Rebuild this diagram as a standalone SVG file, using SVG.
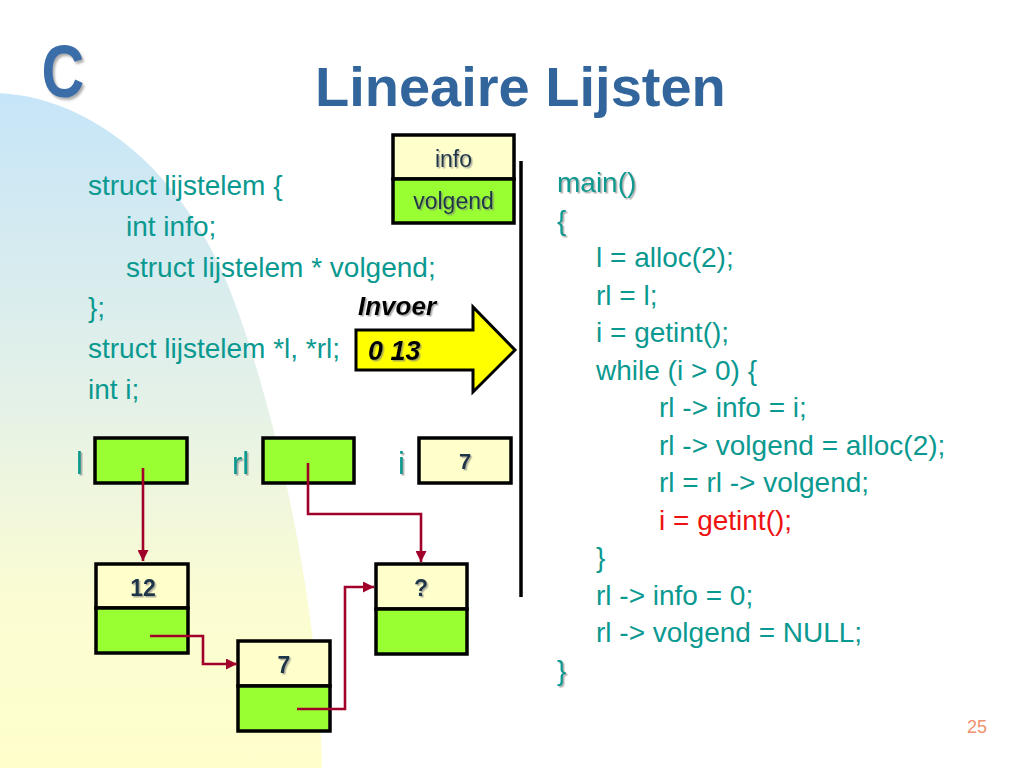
<svg xmlns="http://www.w3.org/2000/svg" width="1024" height="768" viewBox="0 0 1024 768">
<defs>
  <linearGradient id="bgGrad" x1="0" y1="93" x2="0" y2="768" gradientUnits="userSpaceOnUse">
    <stop offset="0" stop-color="#c6e5f8"/>
    <stop offset="0.45" stop-color="#e4f1e8"/>
    <stop offset="0.75" stop-color="#fbfcd2"/>
    <stop offset="1" stop-color="#ffffcc"/>
  </linearGradient>
  <filter id="sh" x="-20%" y="-20%" width="150%" height="150%">
    <feDropShadow dx="1.5" dy="1.5" stdDeviation="0.7" flood-color="#7a7a7a" flood-opacity="0.6"/>
  </filter>
  <filter id="shBig" x="-20%" y="-20%" width="150%" height="150%">
    <feDropShadow dx="2.5" dy="2.5" stdDeviation="1.2" flood-color="#777" flood-opacity="0.6"/>
  </filter>
  <marker id="arr" viewBox="0 0 10 10" refX="10" refY="5" markerWidth="11" markerHeight="11" markerUnits="userSpaceOnUse" orient="auto">
    <path d="M0,0 L10,5 L0,10 Z" fill="#a0002a"/>
  </marker>
  <style>
    .code { font-family: "Liberation Sans", Arial, sans-serif; fill: #0a9990; }
    .lc { font-size: 28px; }
    .rc { font-size: 28px; }
    .red { fill: #ee1111; }
    .box { stroke: #000; stroke-width: 3.5; }
    .cream { fill: #ffffcc; }
    .green { fill: #99ff33; }
    .nt { font-family: "Liberation Sans", Arial, sans-serif; font-weight: bold; fill: #1d3448; text-anchor: middle; }
    .lt { font-family: "Liberation Sans", Arial, sans-serif; font-weight: normal; fill: #1d3448; text-anchor: middle; font-size: 23px; }
    .var { font-family: "Liberation Sans", Arial, sans-serif; font-size: 31px; fill: #0a9990; }
    .conn { fill: none; stroke: #a0002a; stroke-width: 2.6; }
  </style>
</defs>

<rect x="0" y="0" width="1024" height="768" fill="#ffffff"/>
<path d="M-10,93 C80,92 170,160 220,267 C255,342 318,560 322,768 L0,768 L-10,768 Z" fill="url(#bgGrad)"/>

<!-- Header -->
<g id="logo">
  <text x="63" y="97" transform="translate(63 0) scale(0.8 1) translate(-63 0)" text-anchor="middle" font-family="'Liberation Sans', Arial, sans-serif" font-weight="bold" font-size="74" fill="#3b6ea8" filter="url(#shBig)">C</text>
</g>
<g id="title">
  <text x="315" y="106" font-family="'Liberation Sans', Arial, sans-serif" font-weight="bold" font-size="56" fill="#31659c">Lineaire Lijsten</text>
</g>

<!-- Left code -->
<g id="struct-code" class="code lc">
  <text x="88" y="195">struct lijstelem {</text>
  <text x="126" y="236">int info;</text>
  <text x="126" y="276.5">struct lijstelem * volgend;</text>
  <text x="88" y="317">};</text>
  <text x="88" y="358">struct lijstelem *l, *rl;</text>
  <text x="88" y="398.5">int i;</text>
</g>

<!-- Legend box -->
<g id="legend">
  <rect class="box cream" x="393" y="135" width="121" height="44"/>
  <rect class="box green" x="393" y="179" width="121" height="44"/>
  <text class="lt" x="453.5" y="167" filter="url(#sh)">info</text>
  <text class="lt" x="453.5" y="208.5" filter="url(#sh)">volgend</text>
</g>

<!-- Divider line -->
<g id="divider">
  <line x1="521" y1="161" x2="521" y2="597" stroke="#000" stroke-width="3.5"/>
</g>

<!-- Input arrow -->
<g id="input-arrow">
  <path d="M356,330 L473,330 L473,307 L515,350 L473,392 L473,370 L356,370 Z" fill="#ffff00" stroke="#000" stroke-width="3" stroke-linejoin="miter"/>
  <text x="358" y="315" font-family="'Liberation Sans', Arial, sans-serif" font-weight="bold" font-style="italic" font-size="26" fill="#000" filter="url(#sh)">Invoer</text>
  <text x="368" y="360" font-family="'Liberation Sans', Arial, sans-serif" font-weight="bold" font-style="italic" font-size="27" fill="#000" filter="url(#sh)">0 13</text>
</g>

<!-- Right code -->
<g id="main-code" class="code rc">
  <text x="557" y="192" filter="url(#sh)">main()</text>
  <text x="557" y="229.5" filter="url(#sh)">{</text>
  <text x="596" y="267">l = alloc(2);</text>
  <text x="596" y="304.5">rl = l;</text>
  <text x="596" y="342">i = getint();</text>
  <text x="596" y="379.5">while (i &gt; 0) {</text>
  <text x="659" y="417">rl -&gt; info = i;</text>
  <text x="659" y="454.5">rl -&gt; volgend = alloc(2);</text>
  <text x="659" y="492">rl = rl -&gt; volgend;</text>
  <text class="red" x="659" y="529.5">i = getint();</text>
  <text x="596" y="567">}</text>
  <text x="596" y="604.5">rl -&gt; info = 0;</text>
  <text x="596" y="642">rl -&gt; volgend = NULL;</text>
  <text x="557" y="679.5" filter="url(#sh)">}</text>
</g>

<!-- Variables -->
<g id="var-l">
  <text class="var" x="76" y="474" filter="url(#sh)">l</text>
  <rect class="box green" x="95" y="438" width="92" height="45"/>
</g>
<g id="var-rl">
  <text class="var" x="232" y="474" filter="url(#sh)">rl</text>
  <rect class="box green" x="263" y="438" width="91" height="45"/>
</g>
<g id="var-i">
  <text class="var" x="398" y="474" filter="url(#sh)">i</text>
  <rect class="box cream" x="419" y="438" width="92" height="45"/>
  <text class="nt" x="465" y="469" font-size="22" filter="url(#sh)">7</text>
</g>

<!-- List nodes -->
<g id="node-12">
  <rect class="box cream" x="96" y="564" width="92" height="44"/>
  <rect class="box green" x="96" y="608" width="92" height="45"/>
  <text class="nt" x="143" y="596" font-size="23" filter="url(#sh)">12</text>
</g>
<g id="node-7">
  <rect class="box cream" x="238" y="641" width="92" height="45"/>
  <rect class="box green" x="238" y="686" width="92" height="45"/>
  <text class="nt" x="284" y="673" font-size="23" filter="url(#sh)">7</text>
</g>
<g id="node-q">
  <rect class="box cream" x="376" y="564" width="91" height="45"/>
  <rect class="box green" x="376" y="609" width="91" height="45"/>
  <text class="nt" x="421" y="596" font-size="23" filter="url(#sh)">?</text>
</g>

<!-- Connectors -->
<g id="connectors">
  <path class="conn" d="M143,468 L143,561" marker-end="url(#arr)"/>
  <path class="conn" d="M308,463 L308,514 L421,514 L421,562" marker-end="url(#arr)"/>
  <path class="conn" d="M150,636 L203,636 L203,664 L237,664" marker-end="url(#arr)"/>
  <path class="conn" d="M297,709 L345,709 L345,587 L374,587" marker-end="url(#arr)"/>
</g>

<!-- Page number -->
<g id="page-number">
  <text x="987" y="733" text-anchor="end" font-family="'Liberation Sans', Arial, sans-serif" font-size="18" fill="#f0906e">25</text>
</g>
</svg>
